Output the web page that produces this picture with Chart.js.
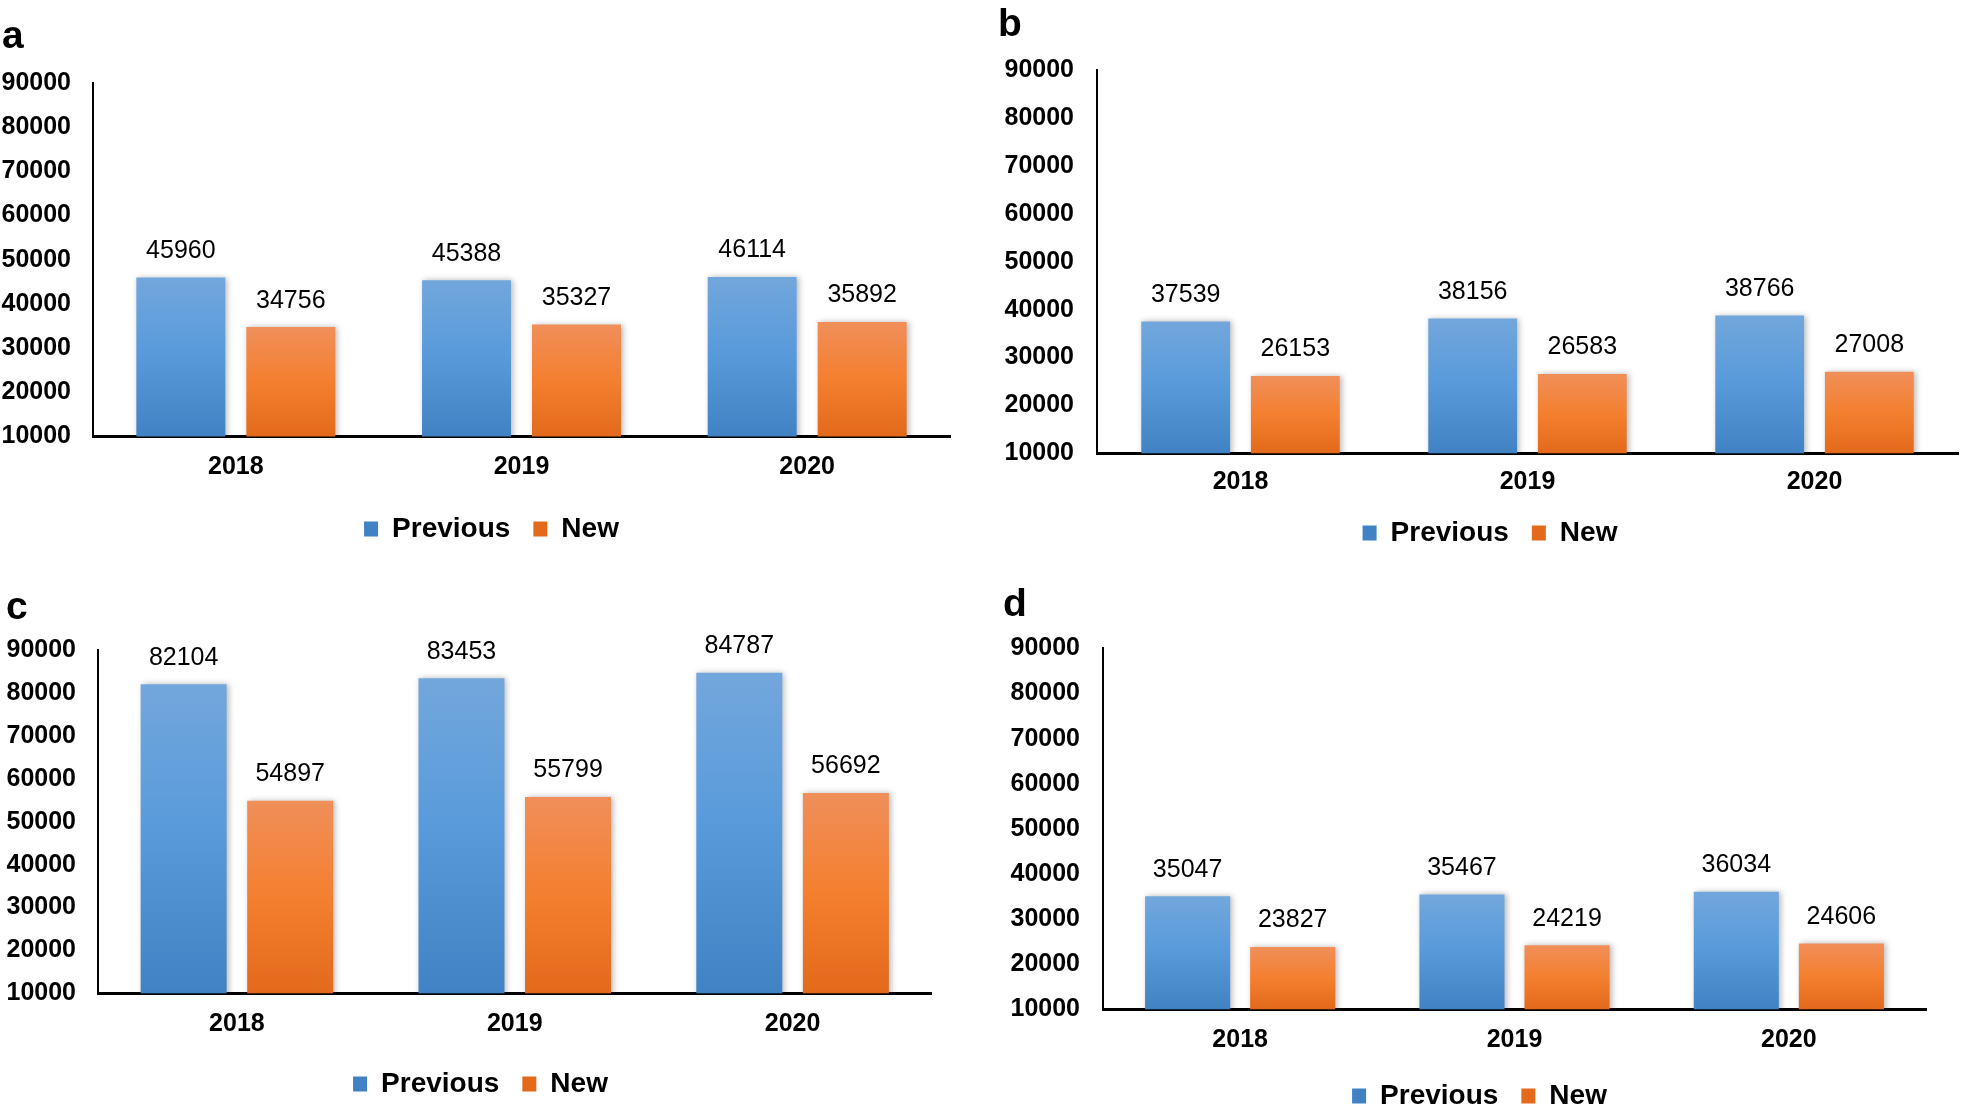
<!DOCTYPE html>
<html>
<head>
<meta charset="utf-8">
<script src="https://cdn.jsdelivr.net/npm/chart.js@4.4.1/dist/chart.umd.min.js"></script>
<style>
html, body { margin: 0; padding: 0; background: #ffffff; overflow: hidden; width: 1961px; height: 1116px; }
.panel { position: absolute; }
.panel canvas { display: block; }
</style>
</head>
<body>
<div class="panel" id="wrap-a"><canvas id="chart-a"></canvas></div>
<div class="panel" id="wrap-b"><canvas id="chart-b"></canvas></div>
<div class="panel" id="wrap-c"><canvas id="chart-c"></canvas></div>
<div class="panel" id="wrap-d"><canvas id="chart-d"></canvas></div>
<script>
// ---------- data ----------
const categories = ['2018', '2019', '2020'];
const seriesNames = ['Previous', 'New'];
const panelTags = ['a', 'b', 'c', 'd'];

const previousA = [45960, 45388, 46114];
const newA      = [34756, 35327, 35892];
const previousB = [37539, 38156, 38766];
const newB      = [26153, 26583, 27008];
const previousC = [82104, 83453, 84787];
const newC      = [54897, 55799, 56692];
const previousD = [35047, 35467, 36034];
const newD      = [23827, 24219, 24606];

const yAxisMin = 10000;
const yAxisMax = 90000;
const yAxisStep = 10000;

// ---------- styles / geometry ----------
const FONT = '"Liberation Sans", Arial, Helvetica, sans-serif';
const blueStops   = [[0, '#72a7dc'], [0.45, '#5a9bdb'], [1, '#4182c4']];
const orangeStops = [[0, '#f08f5a'], [0.5, '#f47f2f'], [1, '#e3691b']];
const blueFlat = '#5b9bd5';
const orangeFlat = '#ef8036';

const LEGEND_FONT = 28, LEGEND_PAD = 23, TICK_FONT = 25;

const geometry = {
  a: {left: 0,   top: 0,   width: 960, plotLeft: 93,   plotRight: 950,   plotTop: 83,    plotBottom: 436.5,  tickRight: 71,   xLabelY: 467.5,  legendY: 529,  legendX: 491.5,  tagX: 2,    tagY: 48,  cat: 0.77,  bar: 0.809},
  b: {left: 980, top: 0,   width: 981, plotLeft: 1097, plotRight: 1958,  plotTop: 70.3,  plotBottom: 453.3,  tickRight: 1074, xLabelY: 482.5,  legendY: 533,  legendX: 1490,   tagX: 998,  tagY: 36,  cat: 0.764, bar: 0.81},
  c: {left: 0,   top: 560, width: 960, plotLeft: 98,   plotRight: 931.5, plotTop: 650.3, plotBottom: 993.3,  tickRight: 76,   xLabelY: 1024,   legendY: 1084, legendX: 480.5,  tagX: 6,    tagY: 619, cat: 0.767, bar: 0.807},
  d: {left: 980, top: 560, width: 981, plotLeft: 1103, plotRight: 1926,  plotTop: 648.4, plotBottom: 1009.3, tickRight: 1080, xLabelY: 1039.7, legendY: 1096, legendX: 1479.5, tagX: 1003, tagY: 616, cat: 0.766, bar: 0.81}
};

function barGradient(stops, fallback) {
  return (ctx) => {
    const chart = ctx.chart;
    if (!chart.chartArea || ctx.type !== 'data') return fallback;
    const ys = chart.scales.y;
    const top = ys.getPixelForValue(ctx.raw);
    const bottom = ys.getPixelForValue(ys.min);
    if (!isFinite(top) || !isFinite(bottom) || top === bottom) return fallback;
    const g = chart.ctx.createLinearGradient(0, top, 0, bottom);
    stops.forEach(s => g.addColorStop(s[0], s[1]));
    return g;
  };
}

const barDecor = {
  id: 'barDecor',
  afterLayout(chart, args, opts) {
    const lg = chart.legend;
    if (!lg) return;
    const dx = opts.legendX - (lg.left + lg.right) / 2;
    lg.left += dx;
    lg.right += dx;
  },
  beforeDatasetsDraw(chart) {
    const c = chart.ctx;
    c.save();
    c.shadowColor = 'rgba(0,0,0,0.28)';
    c.shadowBlur = 6;
    c.shadowOffsetX = 2;
    c.shadowOffsetY = 0;
  },
  afterDatasetsDraw(chart) {
    const c = chart.ctx;
    c.restore();
    c.save();
    c.font = '25px ' + FONT;
    c.fillStyle = '#000000';
    c.textAlign = 'center';
    c.textBaseline = 'middle';
    chart.data.datasets.forEach((ds, di) => {
      const meta = chart.getDatasetMeta(di);
      meta.data.forEach((el, i) => {
        c.fillText(String(ds.data[i]), el.x, el.y - 26.5);
      });
    });
    c.restore();
  },
  afterDraw(chart, args, opts) {
    const c = chart.ctx;
    c.save();
    c.font = 'bold 39px ' + FONT;
    c.fillStyle = '#000000';
    c.textAlign = 'left';
    c.textBaseline = 'alphabetic';
    c.fillText(opts.tag, opts.x, opts.y);
    c.restore();
  }
};

function makePanel(tag, prevData, newData) {
  const g = geometry[tag];
  const legendHeight = LEGEND_FONT + LEGEND_PAD + 10;
  const legendTop = g.legendY - (LEGEND_PAD + LEGEND_FONT / 2);
  const height = Math.ceil(legendTop + legendHeight - g.top);

  const wrap = document.getElementById('wrap-' + tag);
  wrap.style.left = g.left + 'px';
  wrap.style.top = g.top + 'px';
  wrap.style.width = g.width + 'px';
  wrap.style.height = height + 'px';

  const padRight = g.left + g.width - g.plotRight;
  const padTop = g.plotTop - g.top;
  const padBottom = height - (legendTop + legendHeight - g.top);
  const yAxisWidth = g.plotLeft - g.left;
  const xAxisHeight = legendTop - g.plotBottom;

  new Chart(document.getElementById('chart-' + tag), {
    type: 'bar',
    data: {
      labels: categories,
      datasets: [
        {label: seriesNames[0], data: prevData, backgroundColor: barGradient(blueStops, blueFlat),
         borderWidth: 0, categoryPercentage: g.cat, barPercentage: g.bar},
        {label: seriesNames[1], data: newData, backgroundColor: barGradient(orangeStops, orangeFlat),
         borderWidth: 0, categoryPercentage: g.cat, barPercentage: g.bar}
      ]
    },
    options: {
      responsive: true,
      maintainAspectRatio: false,
      animation: false,
      devicePixelRatio: 1,
      layout: {padding: {left: 0, right: padRight, top: padTop, bottom: padBottom}},
      scales: {
        x: {
          z: 1,
          grid: {display: false, drawTicks: false},
          border: {display: true, color: '#000000', width: 3},
          ticks: {color: '#000000', font: {family: FONT, size: TICK_FONT, weight: 'bold'},
                  padding: g.xLabelY - g.plotBottom - TICK_FONT * 0.6, maxRotation: 0, autoSkip: false},
          afterFit(scale) { scale.height = xAxisHeight; }
        },
        y: {
          min: yAxisMin,
          max: yAxisMax,
          grid: {display: false, drawTicks: false},
          border: {display: true, color: '#000000', width: 2},
          ticks: {stepSize: yAxisStep, color: '#000000', font: {family: FONT, size: TICK_FONT, weight: 'bold'},
                  padding: g.plotLeft - g.tickRight, callback: (v) => String(v)},
          afterFit(scale) { scale.width = yAxisWidth; }
        }
      },
      plugins: {
        legend: {
          position: 'bottom',
          align: 'center',
          labels: {boxWidth: 14, boxHeight: 15, padding: LEGEND_PAD, color: '#000000',
                   font: {family: FONT, size: LEGEND_FONT, weight: 'bold'}}
        },
        tooltip: {enabled: false},
        barDecor: {tag: tag, x: g.tagX - g.left, y: g.tagY - g.top, legendX: g.legendX - g.left}
      }
    },
    plugins: [barDecor]
  });
}

makePanel(panelTags[0], previousA, newA);
makePanel(panelTags[1], previousB, newB);
makePanel(panelTags[2], previousC, newC);
makePanel(panelTags[3], previousD, newD);
</script>
</body>
</html>
